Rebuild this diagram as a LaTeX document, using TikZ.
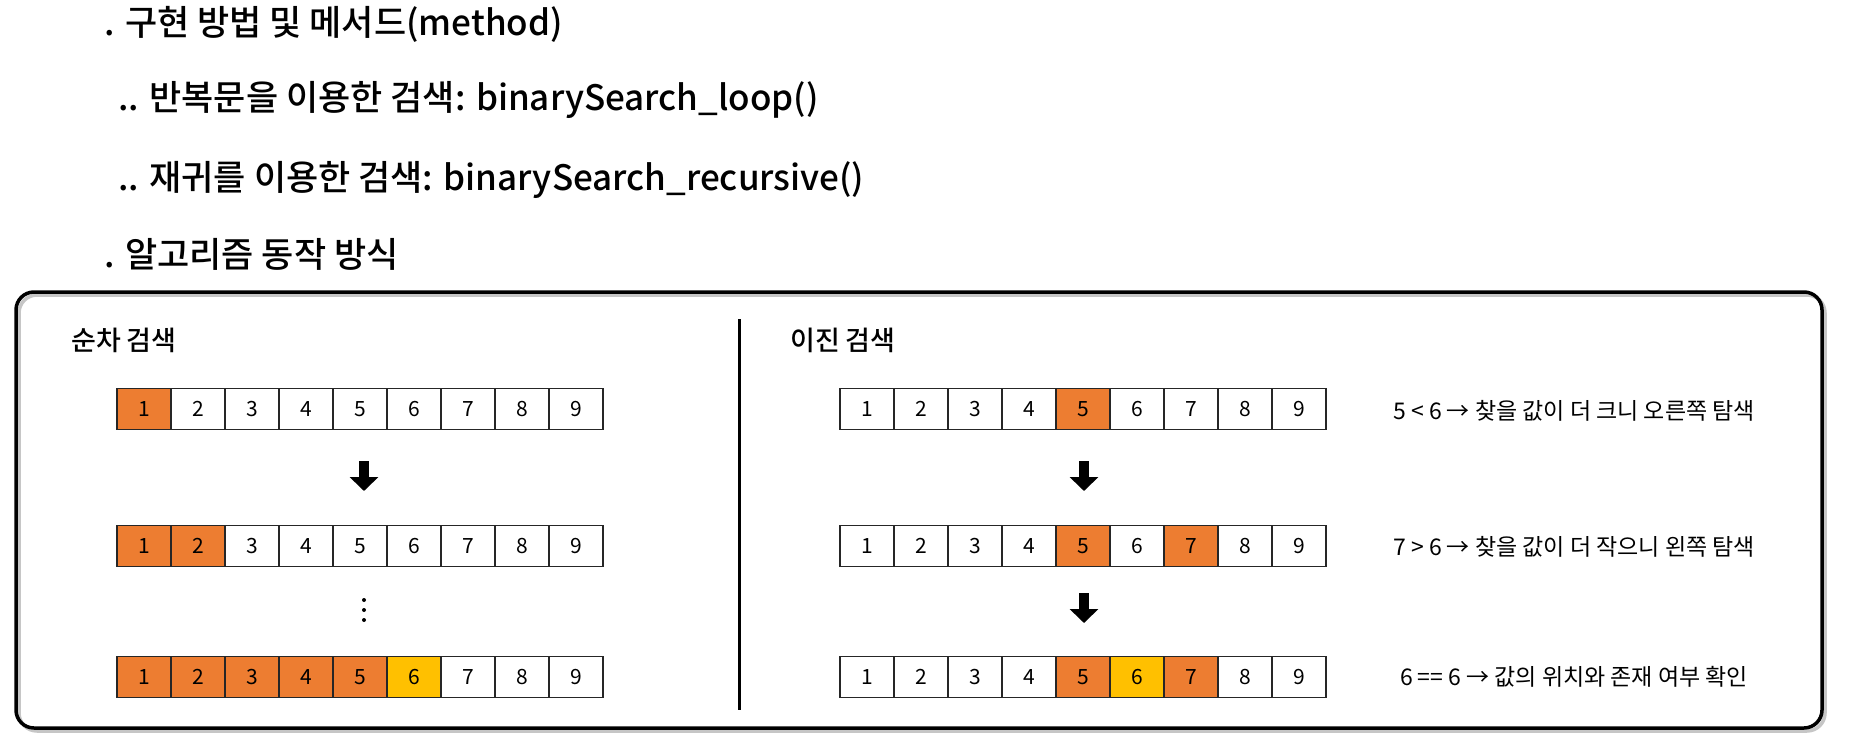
\documentclass[tikz,border=0pt]{standalone}
\usepackage{fontspec}
\setmainfont{Noto Sans CJK KR}
\newfontfamily\medfont{Noto Sans CJK KR Medium}
\usetikzlibrary{arrows.meta}
\definecolor{org}{HTML}{ED7D31}
\definecolor{yel}{HTML}{FFC000}
\begin{document}
\begin{tikzpicture}[x=1pt,y=-1pt,
  cell/.style={draw=black!85, line width=1.4pt, minimum width=54pt, minimum height=41pt, inner sep=0pt, font=\fontsize{21}{21}\selectfont},
  head/.style={anchor=west, inner sep=0pt, font=\medfont\fontsize{35}{35}\selectfont},
  sect/.style={anchor=west, inner sep=0pt, font=\medfont\fontsize{27}{27}\selectfont},
  note/.style={anchor=center, inner sep=0pt, font=\fontsize{23}{23}\selectfont},
  blockarrow/.style={line width=10pt, -{Triangle[width=28pt,length=14pt]}},
  dotmark/.style={circle, fill=black, inner sep=0pt, minimum size=4pt}]
\useasboundingbox (0,0) rectangle (1855,745);
\fill[white] (0,0) rectangle (1855,745);
% header
\node[head] (h1) at (104,24) {. 구현 방법 및 메서드(method)};
\node[head] (h2) at (118,100) {.. 반복문을 이용한 검색: binarySearch\_loop()};
\node[head] (h3) at (118,180) {.. 재귀를 이용한 검색: binarySearch\_recursive()};
\node[head] (h4) at (104,254) {. 알고리즘 동작 방식};
% frame
\draw[gray!45, line width=3.5pt, rounded corners=18pt] (19,295) rectangle (1825,731);
\draw[black, line width=3.5pt, rounded corners=18pt] (16,292) rectangle (1822,728);
\draw[black, line width=3pt] (739,319) -- (739,710);
% section titles
\node[sect] (s1) at (71,340) {순차 검색};
\node[sect] (s2) at (790,340) {이진 검색};
% left rows
\foreach \i/\f in {1/org,2/white,3/white,4/white,5/white,6/white,7/white,8/white,9/white}
  \node[cell, fill=\f] (La\i) at ({117+54*(\i-0.5)},409) {\i};
\foreach \i/\f in {1/org,2/org,3/white,4/white,5/white,6/white,7/white,8/white,9/white}
  \node[cell, fill=\f] (Lb\i) at ({117+54*(\i-0.5)},546) {\i};
\foreach \i/\f in {1/org,2/org,3/org,4/org,5/org,6/yel,7/white,8/white,9/white}
  \node[cell, fill=\f] (Lc\i) at ({117+54*(\i-0.5)},677) {\i};
% right rows
\foreach \i/\f in {1/white,2/white,3/white,4/white,5/org,6/white,7/white,8/white,9/white}
  \node[cell, fill=\f] (Ra\i) at ({840+54*(\i-0.5)},409) {\i};
\foreach \i/\f in {1/white,2/white,3/white,4/white,5/org,6/white,7/org,8/white,9/white}
  \node[cell, fill=\f] (Rb\i) at ({840+54*(\i-0.5)},546) {\i};
\foreach \i/\f in {1/white,2/white,3/white,4/white,5/org,6/yel,7/org,8/white,9/white}
  \node[cell, fill=\f] (Rc\i) at ({840+54*(\i-0.5)},677) {\i};
% arrows
\coordinate (la1s) at (364,461); \coordinate (la1e) at (364,491);
\draw[blockarrow] (la1s) -- (la1e);
\coordinate (ra1s) at (1084,461); \coordinate (ra1e) at (1084,491);
\draw[blockarrow] (ra1s) -- (ra1e);
\coordinate (ra2s) at (1084,593); \coordinate (ra2e) at (1084,623);
\draw[blockarrow] (ra2s) -- (ra2e);
% dots
\node[dotmark] (d1) at (364,600) {};
\node[dotmark] (d2) at (364,610) {};
\node[dotmark] (d3) at (364,620) {};
% notes
\node[note] (n1) at (1574,411) {5 < 6 → 찾을 값이 더 크니 오른쪽 탐색};
\node[note] (n2) at (1574,547) {7 > 6 → 찾을 값이 더 작으니 왼쪽 탐색};
\node[note] (n3) at (1574,677) {6 == 6 → 값의 위치와 존재 여부 확인};
\end{tikzpicture}
\end{document}
